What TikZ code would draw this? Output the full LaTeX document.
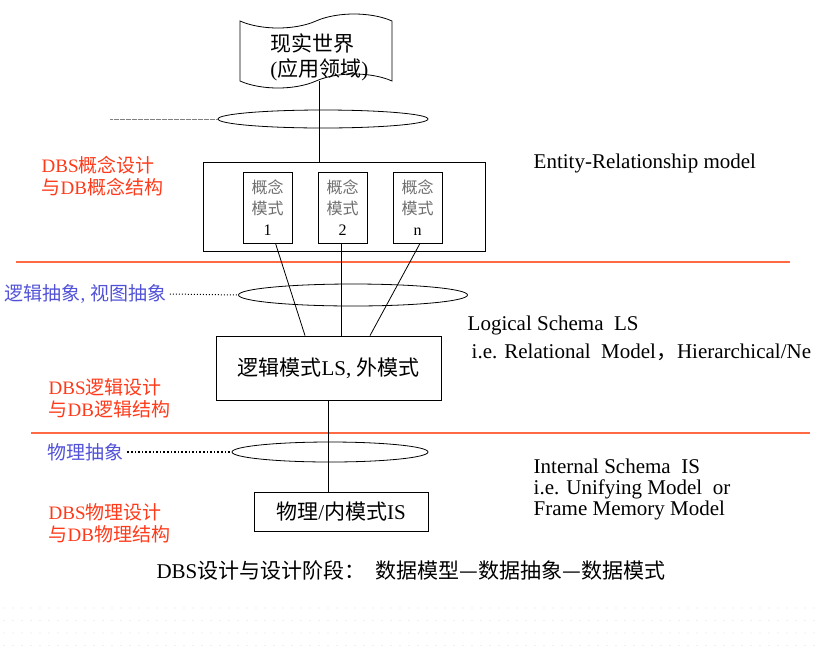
\documentclass[tikz,border=0pt]{standalone}
\usepackage{fontspec}
\setmainfont{Liberation Serif}
\newfontfamily\cjk{Noto Sans CJK SC}
\newcommand\zh[1]{{\cjk #1}}
\newcommand\cmtext[1]{\textcolor{cgray}{\zh{概念}}\\\textcolor{cgray}{\zh{模式}}\\#1}
\usetikzlibrary{shapes.geometric,shapes.symbols}
\definecolor{dbsred}{HTML}{FF3A1A}
\definecolor{sepred}{HTML}{FF6A45}
\definecolor{absblue}{HTML}{5252D8}
\definecolor{cgray}{HTML}{6E6E6E}
\begin{document}
\begin{tikzpicture}[x=1pt,y=-1pt,line width=0.8pt,
  box/.style={draw,rectangle,inner sep=0pt},
  absring/.style={draw,ellipse,inner sep=0pt},
  cbox/.style={box,minimum width=49pt,minimum height=71pt,align=center,font=\fontsize{16}{21}\selectfont},
  redlbl/.style={anchor=west,align=left,text=dbsred,font=\fontsize{19}{22}\selectfont},
  bluelbl/.style={anchor=west,text=absblue,font=\fontsize{19}{22}\selectfont},
  engl/.style={anchor=west,align=left,font=\fontsize{21}{21}\selectfont},
  sepline/.style={sepred,line width=1.1pt}]
\useasboundingbox (0,0) rectangle (821,654);
\clip (0,0) rectangle (821,654);
\foreach \yy in {608,620.5,633,645.5}
  \foreach \xx in {4,13,...,814}
    \fill[black!12] (\xx,\yy) circle (0.6);
% real world
\node[tape,draw,minimum width=152pt,minimum height=74pt,tape bend height=14pt] (world) at (316,51) {};
\node[anchor=west,align=left,inner sep=0pt,font=\fontsize{21}{25}\selectfont] (worldtxt) at (270,57)
  {\zh{现实世界}\\(\zh{应用领域})};
\node[absring,minimum width=210pt,minimum height=18pt] (abs1) at (323,119) {};
\coordinate (d1) at (110,119);
\draw[gray,dash pattern=on 0.6pt off 0.6pt] (d1) -- (abs1.west);
% conceptual level
\node[box,minimum width=282pt,minimum height=89pt] (cm) at (344,206.5) {};
\node[cbox] (c1) at (267.5,207.5) {\cmtext{1}};
\node[cbox] (c2) at (342.5,207.5) {\cmtext{2}};
\node[cbox] (c3) at (417.5,207.5) {\cmtext{n}};
\draw ([xshift=3pt]world.south) -- ([xshift=3pt]world.south |- cm.north);
\node[redlbl] (lbl1) at (38,176) {DBS\zh{概念设计}\\\zh{与}DB\zh{概念结构}};
\node[engl] (er) at (530,163) {Entity-Relationship model};
\draw[sepline] (16,262) -- (790,262);
% logical level
\node[absring,minimum width=229pt,minimum height=22pt] (abs2) at (353,295) {};
\node[bluelbl] (lbl2) at (1,294) {\zh{逻辑抽象}, \zh{视图抽象}};
\draw[dotted,line width=1pt] (lbl2.east) -- (abs2.west);
\node[box,minimum width=225pt,minimum height=64pt,font=\fontsize{21}{21}\selectfont] (lg) at (328.5,368)
  {\zh{逻辑模式}LS, \zh{外模式}};
\draw ([xshift=8pt]c1.south) -- ([xshift=-23.5pt]lg.north);
\draw ([xshift=-1.5pt]c2.south) -- ([xshift=12.5pt]lg.north);
\draw ([xshift=2.5pt]c3.south) -- ([xshift=41.5pt]lg.north);
\node[engl] (ls1) at (464,325) {Logical Schema\ \ LS};
\node[engl] (ls2) at (468,352) {i.e. Relational\ \ Model\zh{，}Hierarchical/Ne};
\node[redlbl] (lbl3) at (45,398) {DBS\zh{逻辑设计}\\\zh{与}DB\zh{逻辑结构}};
\draw[sepline] (31,433) -- (810,433);
% physical level
\node[absring,minimum width=196pt,minimum height=20pt] (abs3) at (330,452) {};
\node[bluelbl] (lbl4) at (44,452) {\zh{物理抽象}};
\draw[line width=1.6pt,dash pattern=on 1.6pt off 2pt] (lbl4.east) -- (abs3.west);
\node[box,minimum width=174pt,minimum height=39pt,font=\fontsize{21}{21}\selectfont] (phy) at (341,511.5)
  {\zh{物理}/\zh{内模式}IS};
\draw (lg.south) -- (lg.south |- phy.north);
\node[engl,font=\fontsize{21}{21}\selectfont] (is) at (530,489)
  {Internal Schema\ \ IS\\i.e. Unifying Model\ \ or\\Frame Memory Model};
\node[redlbl] (lbl5) at (45,523) {DBS\zh{物理设计}\\\zh{与}DB\zh{物理结构}};
\node[font=\fontsize{21}{21}\selectfont] (cap) at (411,570)
  {DBS\zh{设计与设计阶段：}\ \ \zh{数据模型—数据抽象—数据模式}};
\end{tikzpicture}
\end{document}
